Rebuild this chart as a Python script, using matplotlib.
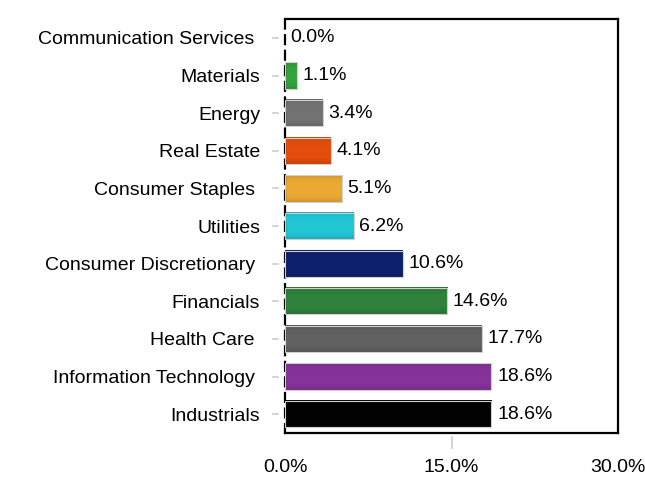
import matplotlib
matplotlib.use('Agg')
import matplotlib.pyplot as plt
import matplotlib.transforms as mtransforms
import matplotlib.colors as mcolors
import numpy as np

# 業種別の構成比（上から順に）
sectors = ['Communication Services ', 'Materials', 'Energy', 'Real Estate',
           'Consumer Staples ', 'Utilities', 'Consumer Discretionary ',
           'Financials', 'Health Care ', 'Information Technology ', 'Industrials']
weights = [0.0, 1.1, 3.4, 4.1, 5.1, 6.2, 10.6, 14.6, 17.7, 18.6, 18.6]
bar_colors = ['#2e9a3a', '#2e9a3a', '#6c6c6c', '#d9480a', '#e0a12e', '#1fbccb',
              '#0b1d68', '#2b7a37', '#5b5b5b', '#7e2f92', '#000000']
x_ticks = [0, 15, 30]
x_tick_labels = ['0.0%', '15.0%', '30.0%']

plt.rcParams['font.family'] = ['Liberation Sans', 'DejaVu Sans']
FS = 14
BAR_H = 0.7

fig = plt.figure(figsize=(6.45, 4.78), dpi=100)
ax = fig.add_axes([0.4419, 0.0941, 0.5163, 0.866])

ypos = list(range(len(sectors)))
# 棒の位置だけ barh で決め、塗りはグラデーション画像で行う
bars = ax.barh(ypos, weights, height=BAR_H, color='none', edgecolor='none')

# 棒に縦方向の陰影をつける（上下をやや暗く、中央を明るく）
t = np.linspace(-1, 1, 41)
shade = 1 - 0.14 * t ** 4
for bar, c in zip(bars, bar_colors):
    w = bar.get_width()
    if w <= 0:
        continue
    rgb = np.array(mcolors.to_rgb(c))
    light = np.clip(rgb * 1.04 + 0.01, 0, 1)
    grad = np.clip(light[None, :] * shade[:, None], 0, 1)[:, None, :]
    y0 = bar.get_y()
    ax.imshow(grad, extent=(0, w, y0 + BAR_H, y0), aspect='auto',
              interpolation='bilinear', zorder=2.5)
    ax.add_patch(plt.Rectangle((0, y0), w, BAR_H, fill=False,
                               edgecolor='#d0d0d0', linewidth=0.8, zorder=3))

# 値ラベル
for y, v in zip(ypos, weights):
    ax.text(v + 0.5, y, f'{v:.1f}%', va='center', ha='left', fontsize=FS)

ax.set_xlim(0, 30)
ax.set_ylim(len(sectors) - 0.5, -0.5)
ax.set_aspect('auto')

ax.set_yticks(ypos)
ax.set_yticklabels(sectors, fontsize=FS)
ax.tick_params(axis='y', length=0, pad=18)

# 目盛線（軸から少し離して描く）
trans = mtransforms.blended_transform_factory(ax.transAxes, ax.transData)
for y in ypos:
    ax.plot([-0.036, -0.021], [y, y], color='#cccccc', linewidth=1.2,
            transform=trans, clip_on=False)

ax.set_xticks(x_ticks)
ax.set_xticklabels(x_tick_labels, fontsize=FS)
ax.tick_params(axis='x', direction='out', length=0, pad=19)
ax.plot([15, 15], [-0.01, -0.035], color='#cccccc', linewidth=1.2,
        transform=mtransforms.blended_transform_factory(ax.transData, ax.transAxes),
        clip_on=False)

for side in ['top', 'right', 'bottom']:
    ax.spines[side].set_color('black')
    ax.spines[side].set_linewidth(1.6)
ax.spines['left'].set_linestyle((0, (4, 3)))
ax.spines['left'].set_linewidth(1.6)

fig.savefig('out.png', dpi=100)
